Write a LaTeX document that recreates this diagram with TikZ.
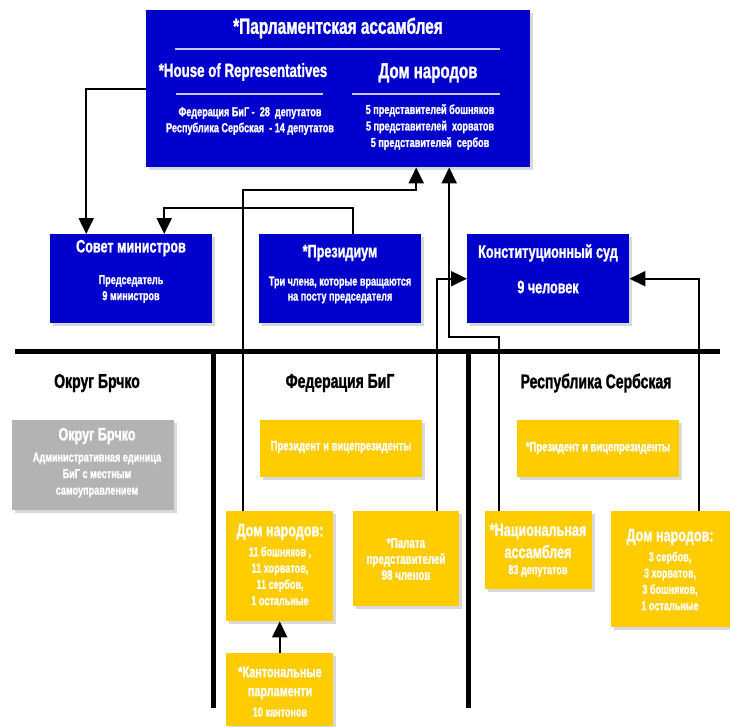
\documentclass[tikz,border=0pt]{standalone}
\usepackage{fontspec}
\newfontfamily\narrowfont{Liberation Sans}[FakeStretch=0.7, FakeBold=1.2]
\usetikzlibrary{arrows.meta, shadows, positioning, calc}
\definecolor{parlBlue}{RGB}{0,0,204}
\definecolor{entYellow}{RGB}{255,204,0}
\definecolor{brckoGray}{RGB}{179,179,179}
\definecolor{ruleLilac}{RGB}{200,200,255}
\tikzset{
    boxShadow/.style={drop shadow={shadow xshift=3pt, shadow yshift=-3pt, fill=black!15, opacity=1}},
    blueBox/.style={rectangle, fill=parlBlue, anchor=north west, inner sep=0pt, boxShadow},
    yellowBox/.style={rectangle, fill=entYellow, anchor=north west, inner sep=0pt, boxShadow},
    grayBox/.style={rectangle, fill=brckoGray, anchor=north west, inner sep=0pt, boxShadow},
    bigText/.style={text=white, font=\narrowfont\bfseries\fontsize{22}{24}\selectfont},
    titleText/.style={text=white, font=\narrowfont\bfseries\fontsize{18}{20}\selectfont},
    smallText/.style={text=white, align=center, font=\narrowfont\bfseries\fontsize{13}{16}\selectfont},
    headText/.style={text=black, font=\narrowfont\bfseries\fontsize{20}{22}\selectfont},
    boxRule/.style={ruleLilac, line width=1.5pt},
    rail/.style={line width=5pt},
    link/.style={-{Triangle[length=16pt, width=15pt]}, line width=2pt},
}
% box from its top left corner, with width and height
\newcommand{\drawBox}[6]{
    \node[#1, minimum width=#4, minimum height=#5] (#2) at (#3) {#6};
}
\begin{document}
\begin{tikzpicture}[x=1pt, y=-1pt]
    \useasboundingbox (0,0) rectangle (730,726);

    % state level
    \drawBox{blueBox}{parl}{146,10}{384pt}{157pt}{}
    \drawBox{blueBox}{sovet}{50,234}{162pt}{89pt}{}
    \drawBox{blueBox}{prez}{259,234}{162pt}{89pt}{}
    \drawBox{blueBox}{konst}{467,234}{162pt}{89pt}{}

    \node[bigText] (tParl) at (338,28) {*Парламентская ассамблея};
    \draw[boxRule] (175,49) -- (500,49);
    \node[titleText, font=\narrowfont\bfseries\fontsize{19}{21}\selectfont] (tHouse) at (243,72) {*House of Representatives};
    \node[titleText, font=\narrowfont\bfseries\fontsize{21.5}{23}\selectfont] (tDomTop) at (428,73) {Дом народов};
    \draw[boxRule] (176,94) -- (323,94);
    \draw[boxRule] (352,94) -- (500,94);
    \node[smallText] (tHouseSeats) at (250,121) {Федерация БиГ -\ \ 28\ \ депутатов\\Республика Сербская\ \ - 14 депутатов};
    \node[smallText, font=\narrowfont\bfseries\fontsize{13}{16.5}\selectfont] (tDomSeats) at (430,127) {5 представителей бошняков\\5 представителей\ \ хорватов\\5 представителей\ \ сербов};

    \node[titleText] (tSovet) at (131,248) {Совет министров};
    \node[smallText] (tSovetSub) at (131,289) {Председатель\\9 министров};
    \node[titleText] (tPrez) at (340,253) {*Президиум};
    \node[smallText, font=\narrowfont\bfseries\fontsize{13}{15}\selectfont] (tPrezSub) at (340,290) {Три члена, которые вращаются\\на посту председателя};
    \node[titleText] (tKonst) at (548,253) {Конституционный суд};
    \node[titleText] (tKonstSub) at (548,287) {9 человек};

    % rails between the entities
    \coordinate (railL) at (15,351);
    \coordinate (railR) at (720,351);
    \draw[rail] (railL) -- (railR);
    \draw[rail] (213,351) -- (213,708);
    \draw[rail] (468,351) -- (468,708);

    \node[headText] (hBrcko) at (97,383) {Округ Брчко};
    \node[headText] (hFed) at (340,383) {Федерация БиГ};
    \node[headText] (hRS) at (596,383) {Республика Сербская};

    % entity level
    \drawBox{grayBox}{brcko}{12,420}{162pt}{90pt}{}
    \drawBox{yellowBox}{fedPres}{260,420}{162pt}{57pt}{}
    \drawBox{yellowBox}{rsPres}{517,420}{162pt}{57pt}{}
    \drawBox{yellowBox}{domFed}{226,511}{107pt}{110pt}{}
    \drawBox{yellowBox}{palata}{353,511}{106pt}{95pt}{}
    \drawBox{yellowBox}{kanton}{226,653}{107pt}{73pt}{}
    \drawBox{yellowBox}{natAs}{485,511}{107pt}{78pt}{}
    \drawBox{yellowBox}{domRS}{611,511}{119pt}{116pt}{}

    \node[titleText] (tBrcko) at (97,436) {Округ Брчко};
    \node[smallText, font=\narrowfont\bfseries\fontsize{13}{16.5}\selectfont] (tBrckoSub) at (97,475) {Административная единица\\БиГ с местным\\самоуправлением};
    \node[smallText, font=\narrowfont\bfseries\fontsize{13.5}{15}\selectfont] (tFedPres) at (341,447) {Президент и вицепрезиденты};
    \node[smallText, font=\narrowfont\bfseries\fontsize{13.5}{15}\selectfont] (tRsPres) at (598,448) {*Президент и вицепрезиденты};

    \node[titleText] (tDomFed) at (280,532) {Дом народов:};
    \node[smallText, font=\narrowfont\bfseries\fontsize{13}{16.3}\selectfont] (tDomFedSub) at (280,576) {11 бошняков ,\\11 хорватов,\\11 сербов,\\1 остальные};
    \node[smallText, font=\narrowfont\bfseries\fontsize{14}{16}\selectfont] (tPalata) at (406,559) {*Палата\\представителей\\98 членов};
    \node[titleText, align=center, font=\narrowfont\bfseries\fontsize{15.5}{19}\selectfont] (tKanton) at (280,683) {*Кантональные\\парламенти};
    \node[smallText] (tKantonSub) at (280,712) {10 кантонов};
    \node[titleText, align=center, font=\narrowfont\bfseries\fontsize{18}{22}\selectfont] (tNatAs) at (538,541) {*Национальная\\ассамблея};
    \node[smallText] (tNatAsSub) at (538,571) {83 депутатов};
    \node[titleText] (tDomRS) at (670,537) {Дом народов:};
    \node[smallText, font=\narrowfont\bfseries\fontsize{13}{16.3}\selectfont] (tDomRSSub) at (670,581) {3 сербов,\\3 хорватов,\\3 бошняков,\\1 остальные};

    % links
    \coordinate (busFed) at (0,190);
    \coordinate (busRS) at (0,337);
    \coordinate (fedUp) at ([xshift=-37pt]domFed.north);
    \coordinate (rsUp) at ([xshift=-40pt]natAs.north);
    \draw[link] (parl.west) -| ([xshift=-45pt]sovet.north);
    \draw[link] ([xshift=13pt]prez.north) -- ++(0,-26) -| ([xshift=33pt]sovet.north);
    \draw[link] (fedUp) -- (fedUp |- busFed) -| ([xshift=78pt]parl.south);
    \draw[link] (rsUp) -- (rsUp |- busRS) -| ([xshift=111pt]parl.south);
    \draw[link] ([xshift=31pt]palata.north) |- (konst.west);
    \draw[link] ([xshift=28pt]domRS.north) |- (konst.east);
    \draw[link] (kanton.north) -- (domFed.south);

\end{tikzpicture}
\end{document}
